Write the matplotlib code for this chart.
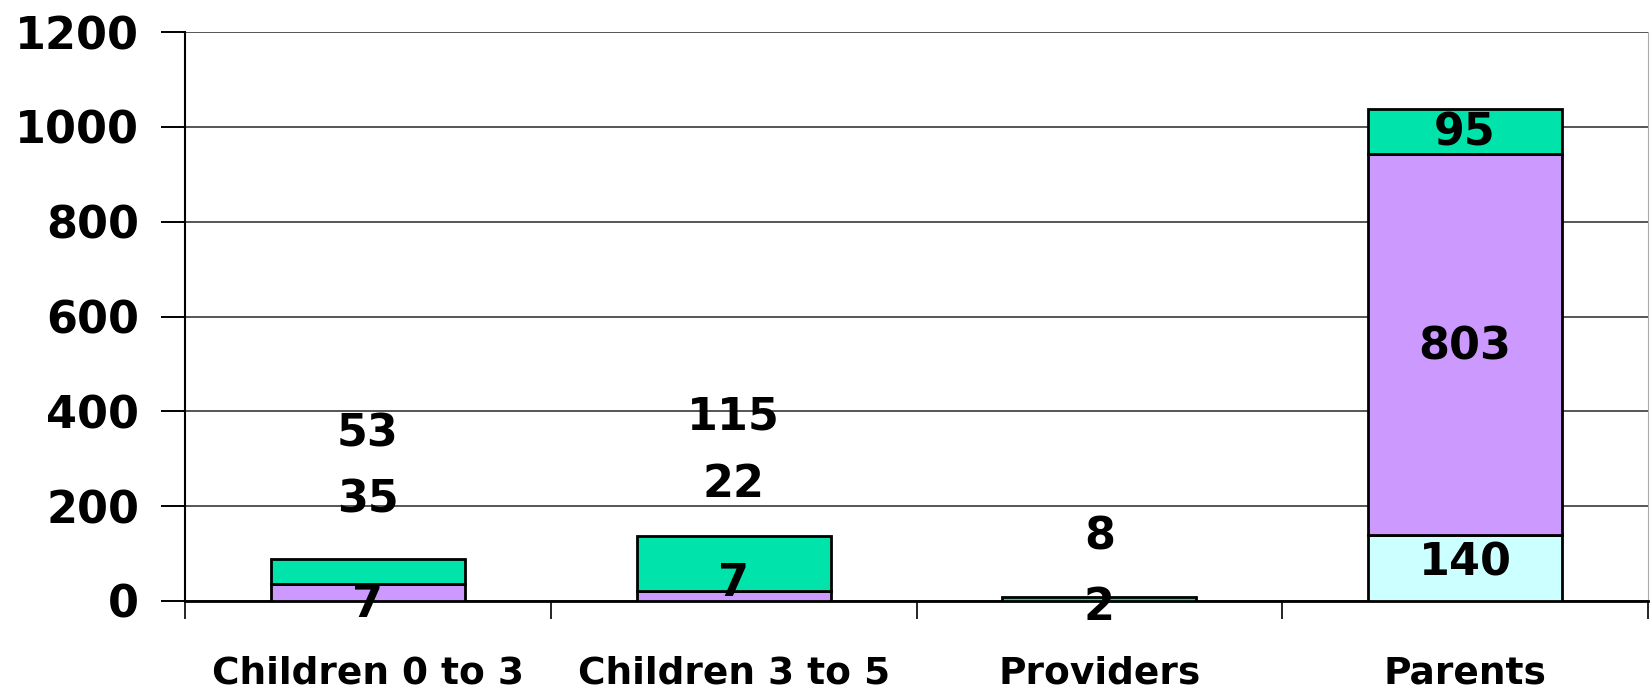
import numpy as np
import matplotlib.pyplot as plt

categories = ["Children 0 to 3", "Children 3 to 5", "Providers", "Parents"]
# segment heights as drawn (bottom to top)
cyan_vals = [0, 0, 0, 140]
purple_vals = [35, 22, 0, 803]
green_vals = [53, 115, 8, 95]
# data label texts per category (bottom, middle, top)
label_texts = [["7", "35", "53"], ["7", "22", "115"], ["2", "", "8"], ["140", "803", "95"]]
# where the labels sit, in data units
label_y = [[-8, 214, 352], [36, 245, 387], [-13, None, 136], [80, 536, 987]]

plt.rcParams["font.family"] = ["DejaVu Sans"]
plt.rcParams["font.weight"] = "bold"

fig = plt.figure(figsize=(16.5, 6.9), dpi=100)
ax = fig.add_axes([185 / 1650, 1 - 601 / 690, (1648 - 185) / 1650, (601 - 32) / 690])

x = np.arange(len(categories))
w = 0.53
cyan = np.array(cyan_vals)
purple = np.array(purple_vals)
green = np.array(green_vals)

ax.bar(x, cyan, w, color="#CCFFFF", edgecolor="black", linewidth=2, zorder=3)
ax.bar(x, purple, w, bottom=cyan, color="#CC99FF", edgecolor="black", linewidth=2, zorder=3)
ax.bar(x, green, w, bottom=cyan + purple, color="#00E3AA", edgecolor="black", linewidth=2, zorder=3)

for i in range(len(categories)):
    for txt, yy in zip(label_texts[i], label_y[i]):
        if txt == "" or yy is None:
            continue
        ax.text(x[i], yy, txt, ha="center", va="center", fontsize=32,
                fontweight="bold", zorder=5, clip_on=False)

ax.set_xlim(-0.5, 3.5)
ax.set_ylim(0, 1200)
ax.set_yticks(range(0, 1201, 200))
ax.yaxis.grid(True, color="#555555", linewidth=1.4, zorder=0)
ax.tick_params(axis="y", labelsize=32, length=17, width=1.4, pad=16)

ax.set_xticks(x)
ax.set_xticklabels(categories, fontsize=27, fontweight="bold")
ax.set_xticks(np.arange(-0.5, 3.6, 1), minor=True)
ax.tick_params(axis="x", which="major", length=0, pad=39)
ax.tick_params(axis="x", which="minor", length=13, width=1.2)

ax.spines["top"].set_visible(False)
ax.spines["right"].set_color("#aaaaaa")
ax.spines["left"].set_linewidth(1.5)
ax.spines["bottom"].set_linewidth(2)

fig.savefig("out.png", dpi=100)
